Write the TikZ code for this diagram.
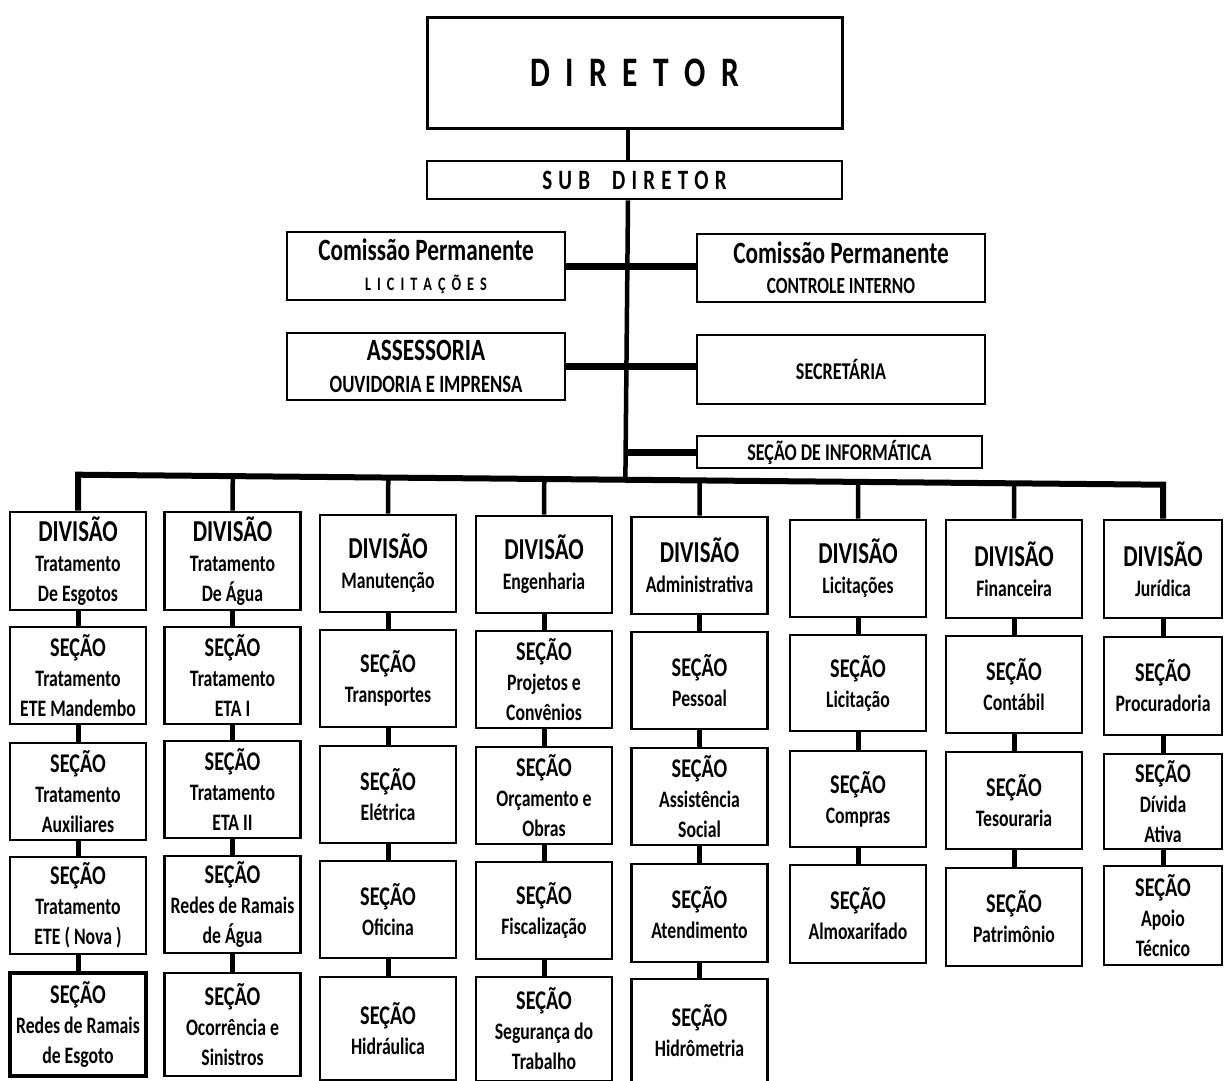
\documentclass[tikz,border=0pt]{standalone}
\usepackage{fontspec}
\usetikzlibrary{calc}
\newfontfamily\cf{Carlito}[FakeStretch=0.75]
\newcommand\Dv{{\fontsize{30.4}{30}\selectfont DIVISÃO}}
\newcommand\Sc{{\fontsize{27}{30}\selectfont SEÇÃO}}
\newcommand\gp{\hspace{15.5pt}}
\newcommand\gs{\hspace{6.2pt}}
\newcommand\gl{\hspace{6pt}}
\tikzset{
  bx/.style={draw, line width=2.6pt, inner sep=0pt, align=center,
    font=\cf\bfseries\fontsize{23.6}{30}\selectfont},
  cbox/.style={bx, minimum width=136pt},
  conn/.style={line width=5pt},
  drop/.style={line width=4.5pt},
  bar/.style={line width=7pt},
  busline/.style={line width=6pt, line join=miter},
}
% \bx{name}{cx}{top}{height}{text}
\newcommand\bx[5]{\node[cbox, minimum height=#4pt] (#1) at (#2,{#3+#4/2}) {#5};}
\begin{document}
\begin{tikzpicture}[x=1pt,y=-1pt]
\fill[white] (0,0) rectangle (1224,1081);
\useasboundingbox (0,0) rectangle (1224,1081);

% top part
\node[bx, line width=3pt, minimum width=415pt, minimum height=110pt,
  font=\cf\bfseries\fontsize{42}{44}\selectfont] (dir) at (634.5,73)
  {D\gp I\gp R\gp E\gp T\gp O\gp R};
\node[bx, minimum width=415pt, minimum height=38pt,
  font=\cf\bfseries\fontsize{28}{30}\selectfont] (sub) at (634.5,180)
  {S\gs U\gs B\hspace{22pt}D\gs I\gs R\gs E\gs T\gs O\gs R};
\node[bx, minimum width=278pt, minimum height=68pt,
  font=\cf\bfseries\fontsize{19}{30}\selectfont] (comlic) at (426,266)
  {{\fontsize{31}{30}\selectfont Comissão Permanente}\\
   L\gl I\gl C\gl I\gl T\gl A\gl Ç\gl Õ\gl E\gl S};
\node[bx, minimum width=288pt, minimum height=68pt,
  font=\cf\bfseries\fontsize{23.2}{30}\selectfont] (comci) at (841,268)
  {{\fontsize{31}{30}\selectfont Comissão Permanente}\\CONTROLE INTERNO};
\node[bx, minimum width=278pt, minimum height=67pt,
  font=\cf\bfseries\fontsize{24.9}{32}\selectfont] (asse) at (426,366.5)
  {{\fontsize{31}{30}\selectfont ASSESSORIA}\\OUVIDORIA E IMPRENSA};
\node[bx, minimum width=288pt, minimum height=69pt,
  font=\cf\bfseries\fontsize{24.1}{30}\selectfont] (secr) at (841,369.5)
  {SECRETÁRIA};
\node[bx, minimum width=285pt, minimum height=32pt,
  font=\cf\bfseries\fontsize{24}{30}\selectfont] (info) at (839.5,452)
  {SEÇÃO DE INFORMÁTICA};

% column 1
\bx{c1d}{78}{512}{98}{\Dv\\Tratamento\\De Esgotos}
\bx{c1a}{78}{627}{97}{\Sc\\Tratamento\\ETE Mandembo}
\bx{c1b}{78}{743}{97}{\Sc\\Tratamento\\Auxiliares}
\bx{c1c}{78}{857}{97}{\Sc\\Tratamento\\ETE ( Nova )}
\node[cbox, line width=3.8pt, minimum height=103pt] (c1e) at (78,1024.5)
  {\Sc\\Redes de Ramais\\de Esgoto};
% column 2
\bx{c2d}{232.5}{512}{98}{\Dv\\Tratamento\\De Água}
\bx{c2a}{232.5}{627}{97}{\Sc\\Tratamento\\ETA I}
\bx{c2b}{232.5}{741}{97}{\Sc\\Tratamento\\ETA II}
\bx{c2c}{232.5}{856}{97}{\Sc\\Redes de Ramais\\de Água}
\bx{c2e}{232.5}{973}{103}{\Sc\\Ocorrência e\\Sinistros}
% column 3
\bx{c3d}{388}{515}{97}{\Dv\\Manutenção}
\bx{c3a}{388}{630}{97}{\Sc\\Transportes}
\bx{c3b}{388}{746}{97}{\Sc\\Elétrica}
\bx{c3c}{388}{861}{97}{\Sc\\Oficina}
\bx{c3e}{388}{977}{103}{\Sc\\Hidráulica}
% column 4
\bx{c4d}{544}{516}{97}{\Dv\\Engenharia}
\bx{c4a}{544}{631}{97}{\Sc\\Projetos e\\Convênios}
\bx{c4b}{544}{747}{97}{\Sc\\Orçamento e\\Obras}
\bx{c4c}{544}{862}{97}{\Sc\\Fiscalização}
\bx{c4e}{544}{977}{104}{\Sc\\Segurança do\\Trabalho}
% column 5
\bx{c5d}{699.5}{517}{97}{\Dv\\Administrativa}
\bx{c5a}{699.5}{632}{97}{\Sc\\Pessoal}
\bx{c5b}{699.5}{748}{97}{\Sc\\Assistência\\Social}
\bx{c5c}{699.5}{864}{98}{\Sc\\Atendimento}
\bx{c5e}{699.5}{979}{104}{\Sc\\Hidrômetria}
% column 6
\bx{c6d}{858}{520}{97}{\Dv\\Licitações}
\bx{c6a}{858}{635}{96}{\Sc\\Licitação}
\bx{c6b}{858}{751}{96}{\Sc\\Compras}
\bx{c6c}{858}{865}{98}{\Sc\\Almoxarifado}
% column 7
\bx{c7d}{1014}{520}{98}{\Dv\\Financeira}
\bx{c7a}{1014}{636}{97}{\Sc\\Contábil}
\bx{c7b}{1014}{752}{97}{\Sc\\Tesouraria}
\bx{c7c}{1014}{868}{98}{\Sc\\Patrimônio}
% column 8
\node[bx, minimum width=118pt, minimum height=98pt] (c8d) at (1163,569) {\Dv\\Jurídica};
\node[bx, minimum width=118pt, minimum height=98pt] (c8a) at (1163,686) {\Sc\\Procuradoria};
\node[bx, minimum width=118pt, minimum height=95pt] (c8b) at (1163,801.5) {\Sc\\Dívida\\Ativa};
\node[bx, minimum width=118pt, minimum height=99pt] (c8c) at (1163,915.5) {\Sc\\Apoio\\Técnico};

% trunk and branches
\coordinate (tk) at (628,0);
\coordinate (t0) at (dir.south -| tk);
\coordinate (t1) at (sub.north -| tk);
\coordinate (t2) at (sub.south -| tk);
\path (c1d.north) ++(0,-36) coordinate (busL);
\path (c8d.north) ++(0,-34) coordinate (busR);
\coordinate (t3) at ($(busL)!(t2)!(busR)$);
\draw[drop] (t0) -- (t1);
\draw[drop] (t2) -- (t3);
\draw[bar] (comlic.east) -- (comlic.east -| comci.west);
\draw[bar] (asse.east) -- (asse.east -| secr.west);
\draw[bar] (tk |- info.west) -- (info.west);
\draw[busline] (c1d.north) -- (busL) -- (busR) -- (c8d.north);
\foreach \c in {c2d,c3d,c4d,c5d,c6d,c7d}
  \draw[drop] (\c.north) -- ($(busL)!(\c.north)!(busR)$);

% vertical links inside columns
\foreach \a/\b in {c1d/c1a,c1a/c1b,c1b/c1c,c1c/c1e,
                   c2d/c2a,c2a/c2b,c2b/c2c,c2c/c2e,
                   c3d/c3a,c3a/c3b,c3b/c3c,c3c/c3e,
                   c4d/c4a,c4a/c4b,c4b/c4c,c4c/c4e,
                   c5d/c5a,c5a/c5b,c5b/c5c,c5c/c5e,
                   c6d/c6a,c6a/c6b,c6b/c6c,
                   c7d/c7a,c7a/c7b,c7b/c7c,
                   c8d/c8a,c8a/c8b,c8b/c8c}
  \draw[conn] (\a.south) -- (\b.north);
\end{tikzpicture}
\end{document}
